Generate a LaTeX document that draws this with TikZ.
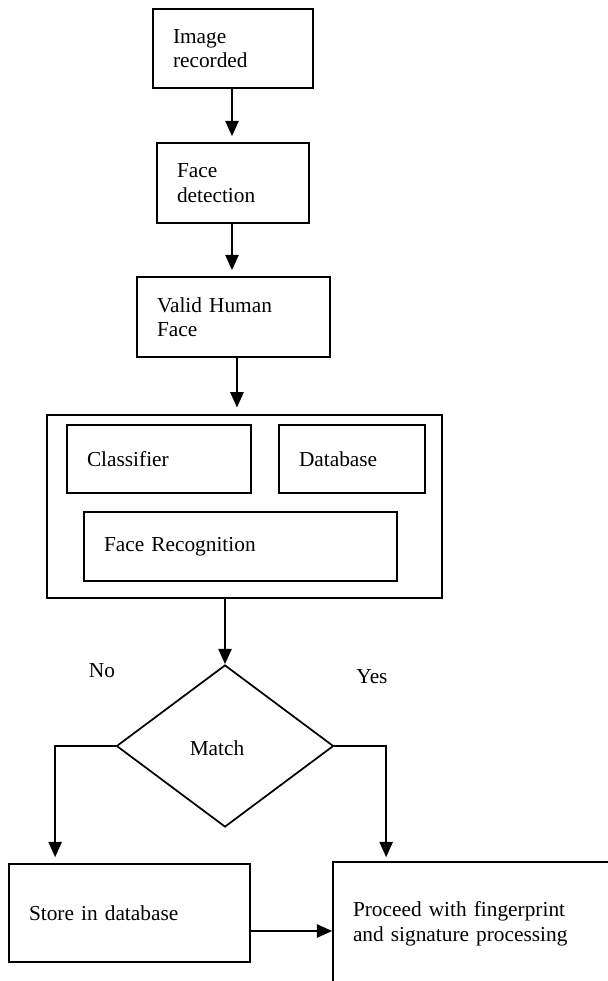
\documentclass[tikz,border=0pt]{standalone}
\usepackage{fontspec}
\setmainfont{Liberation Serif}
\usetikzlibrary{arrows.meta,calc,shapes.geometric}
\begin{document}
\begin{tikzpicture}[x=0.75pt,y=-0.75pt,
  every node/.style={font=\fontsize{16pt}{18.4pt}\selectfont},
  box/.style={draw,line width=1.3pt,rectangle,align=left,inner xsep=15pt,inner ysep=0pt},
  plain/.style={inner sep=0pt},
  arr/.style={line width=1.3pt,-{Triangle[width=10pt,length=11.5pt]}}]
\useasboundingbox (0,0) rectangle (607,981);
\fill[white] (0,0) rectangle (607,981);
% top chain
\node[box,text width=90pt,minimum width=120pt,minimum height=59.25pt] (img) at (233,48.5) {Image\\recorded};
\node[box,text width=84pt,minimum width=114pt,minimum height=60pt] (fd) at (233,183) {Face\\detection};
\node[box,text width=114.75pt,minimum width=144.75pt,minimum height=60pt] (vh) at (233.5,317) {Valid Human\\Face};
% big box
\node[draw,line width=1.3pt,minimum width=296.25pt,minimum height=137.25pt,inner sep=0pt] (big) at (244.5,506.5) {};
\node[box,text width=108pt,minimum width=138pt,minimum height=51pt] (cls) at (159,459) {Classifier};
\node[box,text width=79.5pt,minimum width=109.5pt,minimum height=51pt] (db) at (352,459) {Database};
\node[box,text width=204.75pt,minimum width=234.75pt,minimum height=51.75pt] (fr) at (240.5,546.5) {Face Recognition};
% decision
\node[draw,line width=1.3pt,diamond,minimum width=162.75pt,minimum height=121.5pt,inner sep=0pt] (match) at (225,746) {};
\node[plain] (matchtxt) at (217,748) {Match};
\node[plain] (no) at (102,671) {No};
\node[plain] (yes) at (372,677) {Yes};
% outputs
\node[box,text width=150.75pt,minimum width=180.75pt,minimum height=73.5pt] (store) at (129.5,913) {Store in database};
\node[box,text width=207.75pt,minimum width=237.75pt,minimum height=93pt] (proc) at (491.5,924) {Proceed with fingerprint\\and signature processing};
% connectors
\draw[arr,shorten >=4.5pt] ([xshift=-0.75pt]img.south) -- ([xshift=-0.75pt]fd.north);
\draw[arr,shorten >=4.5pt] ([xshift=-0.75pt]fd.south) -- ([xshift=-0.75pt]fd.south |- vh.north);
\draw[arr,shorten >=5pt] ([xshift=2.6pt]vh.south) -- ([xshift=2.6pt]vh.south |- big.north);
\draw[arr] (big.south -| match.north) -- (match.north);
\draw[arr,shorten >=4.5pt] (match.west) -| ($(store.north west)+(47,0)$);
\draw[arr,shorten >=3pt] (match.east) -| ($(proc.north west)+(54,0)$);
\coordinate (s1) at ($(store.east)+(0,18)$);
\draw[arr] (s1) -- (s1 -| proc.west);
\end{tikzpicture}
\end{document}
